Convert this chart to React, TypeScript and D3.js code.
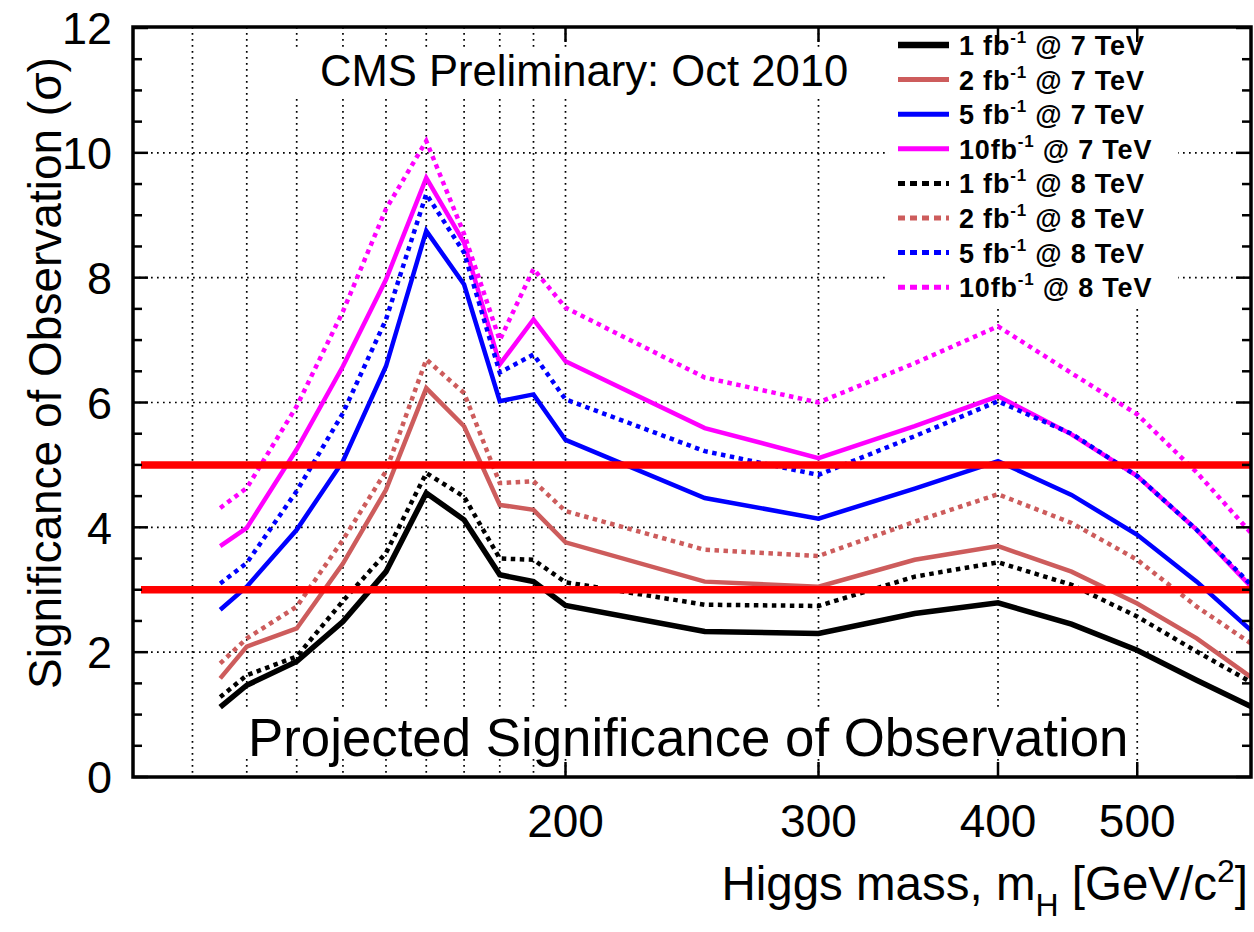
import React from "react";
import * as d3 from "d3";

// Higgs mass points (GeV/c^2)
const masses = [115, 120, 130, 140, 150, 160, 170, 180, 190, 200, 250, 300, 350, 400, 450, 500, 550, 600];

// Projected significance (sigma)
const sig1fb7TeV = [1.12, 1.47, 1.85, 2.49, 3.29, 4.55, 4.12, 3.24, 3.13, 2.75, 2.33, 2.30, 2.62, 2.79, 2.45, 2.03, 1.55, 1.13];
const sig2fb7TeV = [1.58, 2.09, 2.38, 3.42, 4.60, 6.23, 5.62, 4.36, 4.28, 3.76, 3.13, 3.05, 3.48, 3.70, 3.29, 2.78, 2.22, 1.60];
const sig5fb7TeV = [2.68, 3.05, 3.96, 5.06, 6.58, 8.75, 7.89, 6.02, 6.13, 5.40, 4.47, 4.14, 4.62, 5.06, 4.52, 3.88, 3.13, 2.35];
const sig10fb7TeV = [3.70, 3.99, 5.25, 6.58, 7.97, 9.60, 8.56, 6.61, 7.33, 6.66, 5.59, 5.11, 5.62, 6.10, 5.49, 4.82, 3.96, 3.05];
const sig1fb8TeV = [1.28, 1.63, 1.93, 2.82, 3.59, 4.87, 4.49, 3.50, 3.48, 3.12, 2.76, 2.74, 3.21, 3.44, 3.08, 2.57, 2.01, 1.52];
const sig2fb8TeV = [1.82, 2.22, 2.73, 3.80, 4.90, 6.69, 6.15, 4.71, 4.74, 4.26, 3.64, 3.54, 4.09, 4.53, 4.07, 3.48, 2.73, 2.14];
const sig5fb8TeV = [3.10, 3.43, 4.58, 5.83, 7.33, 9.34, 8.40, 6.48, 6.77, 6.05, 5.22, 4.84, 5.46, 6.02, 5.50, 4.82, 3.96, 3.08];
const sig10fb8TeV = [4.31, 4.63, 5.94, 7.46, 9.10, 10.19, 8.70, 7.00, 8.14, 7.52, 6.40, 6.00, 6.63, 7.22, 6.47, 5.81, 4.88, 3.91];

const seriesLumi = ["1 fb", "2 fb", "5 fb", "10fb", "1 fb", "2 fb", "5 fb", "10fb"];
const seriesEnergy = ["7 TeV", "7 TeV", "7 TeV", "7 TeV", "8 TeV", "8 TeV", "8 TeV", "8 TeV"];
const seriesValues = [sig1fb7TeV, sig2fb7TeV, sig5fb7TeV, sig10fb7TeV, sig1fb8TeV, sig2fb8TeV, sig5fb8TeV, sig10fb8TeV];

const xLabeledTicks = [200, 300, 400, 500];
const xGridValues = [110, 120, 130, 140, 150, 160, 170, 180, 190, 200, 300, 400, 500];
const yLabeledTicks = [0, 2, 4, 6, 8, 10, 12];
const yGridValues = [2, 4, 6, 8, 10];
const thresholds = [5, 3];

const colors = ["#000000", "#cd5c5c", "#0000ff", "#ff00ff", "#000000", "#cd5c5c", "#0000ff", "#ff00ff"];
const widths = [5.5, 4.5, 4.5, 4.5, 4.5, 4.5, 4.5, 4.5];
const dashes = [null, null, null, null, "4.5 4.5", "4.5 4.5", "4.5 4.5", "4.5 4.5"];

const FONT = "'Liberation Sans', Arial, Helvetica, sans-serif";

export default function App() {
  const W = 1254, H = 932;
  const L = 133, R = 1251, T = 27, B = 777;
  const x = d3.scaleLog().domain([100, 600]).range([L, R]);
  const y = d3.scaleLinear().domain([0, 12]).range([B, 28]);
  const line = d3.line<number>().x((_, i) => x(masses[i])).y((d) => y(d));

  const yMinor = d3.range(0, 12.01, 0.5);

  const legendY0 = 45, legendDy = 34.6;

  return (
    <svg width={W} height={H} style={{ position: "absolute", left: 0, top: 0, background: "#fff" }} fontFamily={FONT}>
      <rect x={0} y={0} width={W} height={H} fill="#fff" />
      {/* grid */}
      <g stroke="#000" strokeWidth={1.7} strokeDasharray="1.7 4.3">
        {xGridValues.map((v) => (
          <line key={"gx" + v} x1={x(v)} x2={x(v)} y1={T} y2={B} />
        ))}
        {yGridValues.map((v) => (
          <line key={"gy" + v} x1={L} x2={R} y1={y(v)} y2={y(v)} />
        ))}
      </g>
      {/* white boxes behind texts */}
      <rect x={272} y={49} width={600} height={50} fill="#fff" />
      <rect x={888} y={T} width={290} height={281} fill="#fff" />
      <rect x={243} y={709} width={892} height={50} fill="#fff" />

      {/* series */}
      {seriesValues.map((vals, i) => (
        <path
          key={"s" + i}
          d={line(vals) || ""}
          fill="none"
          stroke={colors[i]}
          strokeWidth={widths[i]}
          strokeDasharray={dashes[i] || undefined}
          strokeLinejoin="miter"
        />
      ))}

      {/* threshold lines */}
      {thresholds.map((t) => (
        <line key={"t" + t} x1={141} x2={R} y1={y(t)} y2={y(t)} stroke="#ff0000" strokeWidth={7.5} />
      ))}

      {/* frame */}
      <rect x={L} y={T} width={R - L} height={B - T} fill="none" stroke="#000" strokeWidth={3.5} />

      {/* ticks */}
      <g stroke="#000" strokeWidth={2.5}>
        {yMinor.map((v) => {
          const major = Math.abs(v % 2) < 1e-6;
          const len = major ? 15 : 9;
          return (
            <g key={"yt" + v}>
              <line x1={L} x2={L + len} y1={y(v)} y2={y(v)} />
              <line x1={R} x2={R - len} y1={y(v)} y2={y(v)} />
            </g>
          );
        })}
        {xLabeledTicks.map((v) => (
          <g key={"xt" + v}>
            <line x1={x(v)} x2={x(v)} y1={B} y2={B - 15} />
            <line x1={x(v)} x2={x(v)} y1={T} y2={T + 15} />
          </g>
        ))}
      </g>

      {/* y tick labels */}
      {yLabeledTicks.map((v) => (
        <text key={"yl" + v} x={112} y={y(v)} dy="0.36em" textAnchor="end" fontSize={45}>
          {v}
        </text>
      ))}
      {/* x tick labels */}
      {xLabeledTicks.map((v) => (
        <text key={"xl" + v} x={x(v)} y={837} textAnchor="middle" fontSize={46}>
          {v}
        </text>
      ))}

      {/* axis titles */}
      <text transform={`translate(61,373) rotate(-90)`} textAnchor="middle" fontSize={46}>
        Significance of Observation (σ)
      </text>
      <text x={1248} y={900} textAnchor="end" fontSize={47.5}>
        Higgs mass, m
        <tspan fontSize={32} dy={16}>H</tspan>
        <tspan dy={-16}> [GeV/c</tspan>
        <tspan fontSize={32} dy={-18}>2</tspan>
        <tspan dy={18}>]</tspan>
      </text>

      {/* annotations */}
      <text x={320} y={86} fontSize={43.6}>CMS Preliminary: Oct 2010</text>
      <text x={248} y={756} fontSize={52.8}>Projected Significance of Observation</text>

      {/* legend */}
      {seriesValues.map((_, i) => {
        const cy = legendY0 + i * legendDy;
        return (
          <g key={"lg" + i}>
            <line
              x1={898}
              x2={949}
              y1={cy}
              y2={cy}
              stroke={colors[i]}
              strokeWidth={i === 0 ? 6.5 : 5}
              strokeDasharray={dashes[i] ? "7 5" : undefined}
            />
            <text x={959} y={cy + 10} fontSize={27} fontWeight="bold" letterSpacing={0.8}>
              {seriesLumi[i]}
              <tspan fontSize={17} dy={-12}>-1</tspan>
              <tspan dy={12}> @ {seriesEnergy[i]}</tspan>
            </text>
          </g>
        );
      })}
    </svg>
  );
}
